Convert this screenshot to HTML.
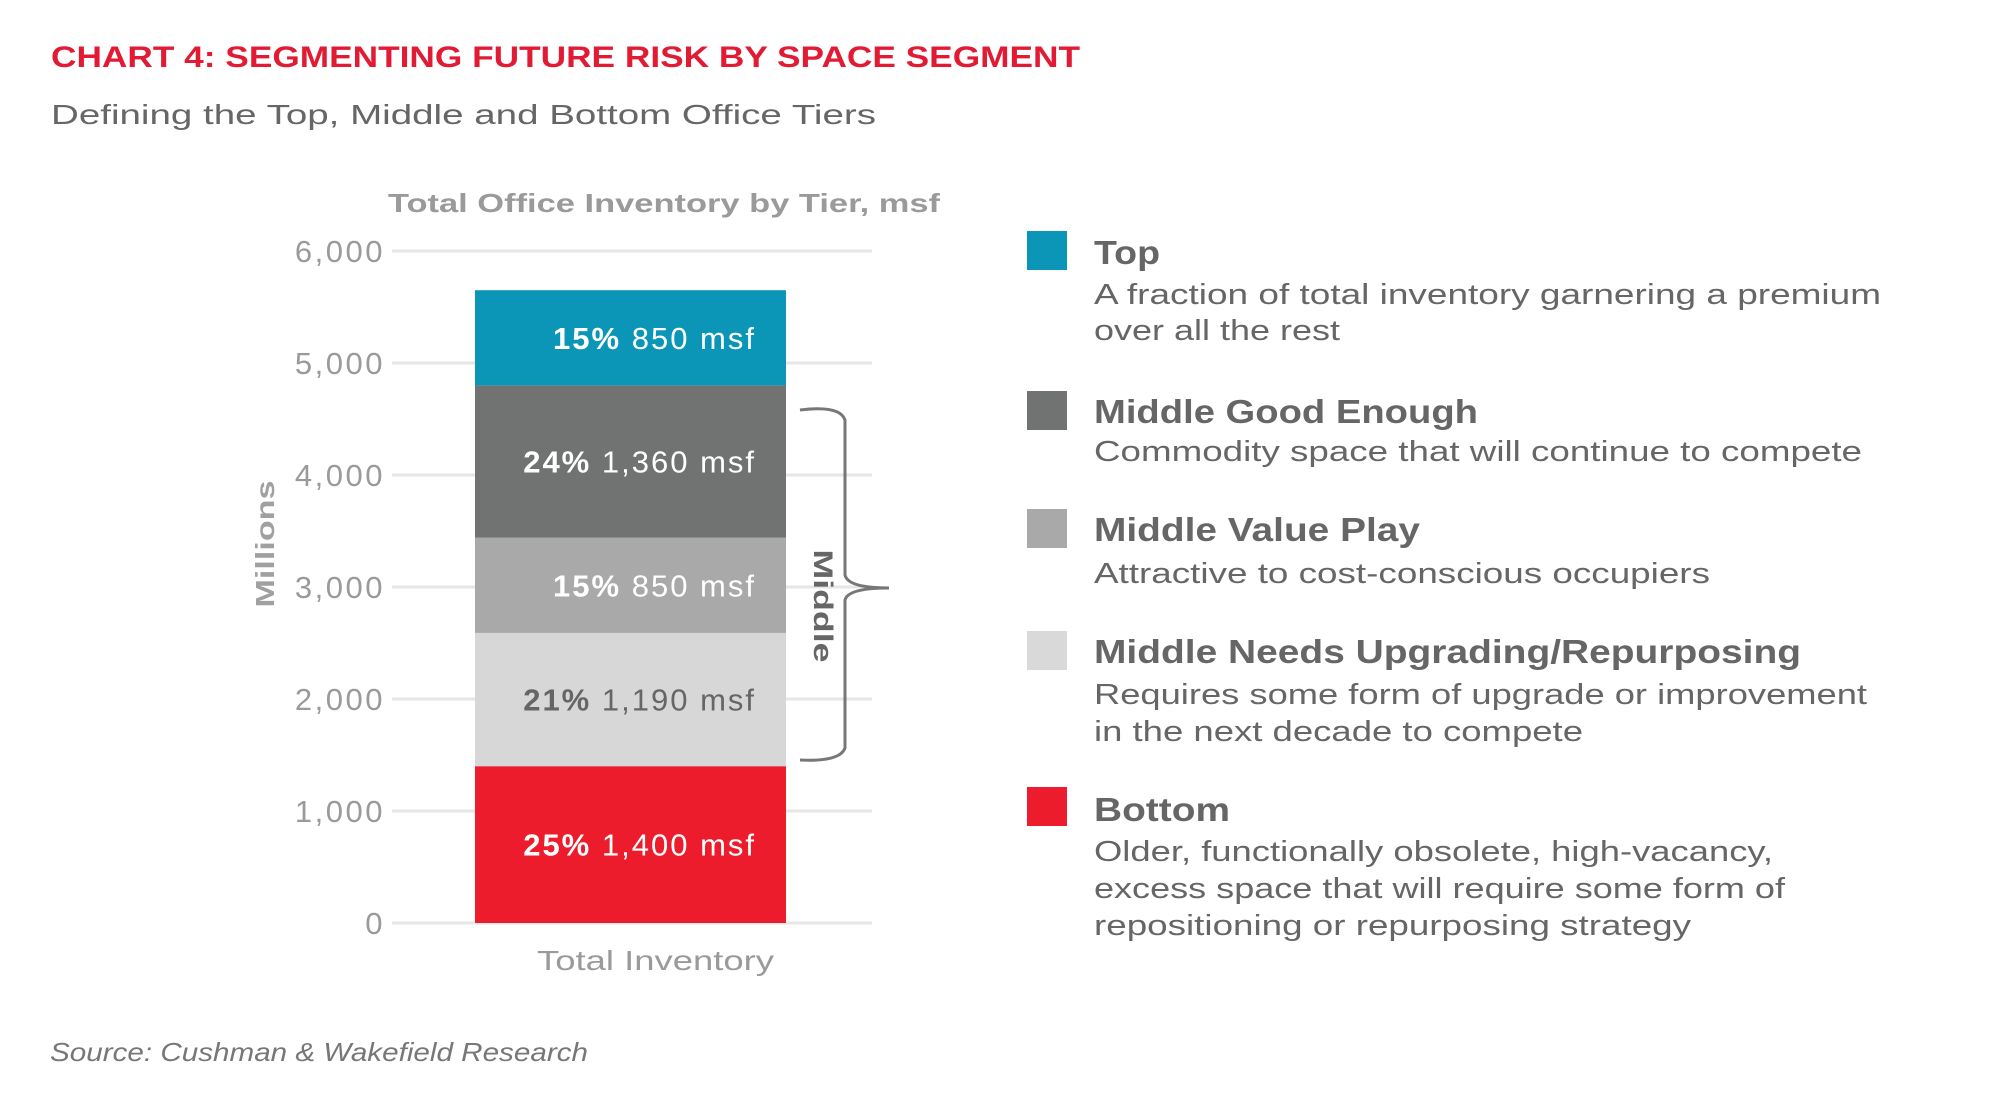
<!DOCTYPE html>
<html><head><meta charset="utf-8"><style>
html,body{margin:0;padding:0;background:#fff;}
svg{display:block;font-family:"Liberation Sans",sans-serif;}
</style></head><body>
<svg id="chart" width="2006" height="1094" viewBox="0 0 2006 1094" xmlns="http://www.w3.org/2000/svg">
<text x="51" y="67" font-size="30" font-weight="bold" fill="#e21b35" textLength="1029" lengthAdjust="spacingAndGlyphs">CHART 4: SEGMENTING FUTURE RISK BY SPACE SEGMENT</text>
<text x="51" y="124" font-size="28" fill="#666" textLength="825" lengthAdjust="spacingAndGlyphs">Defining the Top, Middle and Bottom Office Tiers</text>
<text x="388" y="212" font-size="26" font-weight="bold" fill="#9a9a9a" textLength="552" lengthAdjust="spacingAndGlyphs">Total Office Inventory by Tier, msf</text>
<g id="grid"></g>
<g id="yticks"></g>
<g id="bars"></g>
<text transform="translate(274,544) rotate(-90)" text-anchor="middle" font-size="26" font-weight="bold" fill="#a0a0a0" textLength="127" lengthAdjust="spacingAndGlyphs">Millions</text>
<text x="537" y="970" font-size="28" fill="#9a9a9a" textLength="237" lengthAdjust="spacingAndGlyphs">Total Inventory</text>
<path d="M800 410 Q840 405 845 420 L845 575 Q848 588 889 588 Q848 588 845 600 L845 748 Q840 762 800 760" fill="none" stroke="#777" stroke-width="3"/>
<text transform="translate(814,606) rotate(90)" text-anchor="middle" font-size="27" font-weight="bold" fill="#666" textLength="113" lengthAdjust="spacingAndGlyphs">Middle</text>
<text x="50" y="1061" font-size="26" font-style="italic" fill="#777" textLength="538" lengthAdjust="spacingAndGlyphs">Source: Cushman &amp; Wakefield Research</text>
<g id="legend"></g>
</svg>
<script>
const categories = ["Bottom","Middle Needs Upgrading","Middle Value Play","Middle Good Enough","Top"];
const values = [1400, 1190, 850, 1360, 850];
const percents = ["25%","21%","15%","24%","15%"];
const tickValues = [0,1000,2000,3000,4000,5000,6000];
const tickLabels = ["0","1,000","2,000","3,000","4,000","5,000","6,000"];
const colors = ["#ec1c2c","#d7d7d7","#a9a9a9","#717272","#0b96b8"];
const labelColors = ["#fff","#666","#fff","#fff","#fff"];
const NS="http://www.w3.org/2000/svg";
function yScale(v){return 923 - v*(672/6000);}
const grid=document.getElementById('grid'), yt=document.getElementById('yticks'), bars=document.getElementById('bars');
tickValues.forEach((v,i)=>{
  const l=document.createElementNS(NS,'line');
  
  
  l.setAttribute('x1',392);l.setAttribute('x2',872);l.setAttribute('y1',yScale(v));l.setAttribute('y2',yScale(v));
  l.setAttribute('stroke','#e6e6e6');l.setAttribute('stroke-width',3);
  grid.appendChild(l);
  const t=document.createElementNS(NS,'text');
  
  
  t.setAttribute('x',385);t.setAttribute('y',yScale(v)+11);t.setAttribute('text-anchor','end');
  t.setAttribute('font-size','31');t.setAttribute('fill','#9a9a9a');t.setAttribute('letter-spacing','2.5');
  t.textContent=tickLabels[i];
  yt.appendChild(t);
});
let cum=0;
values.forEach((v,i)=>{
  const y0=yScale(cum), y1=yScale(cum+v);
  const r=document.createElementNS(NS,'rect');
  
  
  r.setAttribute('x',475);r.setAttribute('width',311);r.setAttribute('y',y1);r.setAttribute('height',y0-y1);
  r.setAttribute('fill',colors[i]);
  bars.appendChild(r);
  const t=document.createElementNS(NS,'text');
  
  
  t.setAttribute('x',756);t.setAttribute('y',(y0+y1)/2+11);t.setAttribute('text-anchor','end');
  t.setAttribute('font-size','31');t.setAttribute('fill',labelColors[i]);t.setAttribute('letter-spacing','2');
  const b=document.createElementNS(NS,'tspan');b.setAttribute('font-weight','bold');b.textContent=percents[i]+' ';
  const n=document.createElementNS(NS,'tspan');n.textContent=v.toLocaleString('en-US')+' msf';
  t.appendChild(b);t.appendChild(n);
  bars.appendChild(t);
  cum+=v;
});
const legendItems=[
 {c:"#0b96b8",sq:231,h:"Top",hy:264,hw:66,lines:[["A fraction of total inventory garnering a premium",304,787],["over all the rest",340,246]]},
 {c:"#717272",sq:391,h:"Middle Good Enough",hy:423,hw:384,lines:[["Commodity space that will continue to compete",461,768]]},
 {c:"#a9a9a9",sq:509,h:"Middle Value Play",hy:541,hw:326,lines:[["Attractive to cost-conscious occupiers",583,616]]},
 {c:"#d9d9d9",sq:631,h:"Middle Needs Upgrading/Repurposing",hy:663,hw:707,lines:[["Requires some form of upgrade or improvement",704,773],["in the next decade to compete",741,489]]},
 {c:"#ec1c2c",sq:787,h:"Bottom",hy:821,hw:136,lines:[["Older, functionally obsolete, high-vacancy,",861,679],["excess space that will require some form of",898,691],["repositioning or repurposing strategy",935,597]]}
];
const lg=document.getElementById('legend');
legendItems.forEach(it=>{
  const r=document.createElementNS(NS,'rect');
  
  
  r.setAttribute('x',1027);r.setAttribute('y',it.sq);r.setAttribute('width',40);r.setAttribute('height',39);r.setAttribute('fill',it.c);
  lg.appendChild(r);
  const h=document.createElementNS(NS,'text');
  
  
  h.setAttribute('x',1094);h.setAttribute('y',it.hy);h.setAttribute('font-size','33');h.setAttribute('font-weight','bold');h.setAttribute('fill','#666');
  h.setAttribute('textLength',it.hw);h.setAttribute('lengthAdjust','spacingAndGlyphs');
  h.textContent=it.h;lg.appendChild(h);
  it.lines.forEach(L=>{
    const t=document.createElementNS(NS,'text');
    
    
    t.setAttribute('x',1094);t.setAttribute('y',L[1]);t.setAttribute('font-size','29');t.setAttribute('fill','#666');
    t.setAttribute('textLength',L[2]);t.setAttribute('lengthAdjust','spacingAndGlyphs');
    t.textContent=L[0];lg.appendChild(t);
  });
});
</script>
</body></html>
